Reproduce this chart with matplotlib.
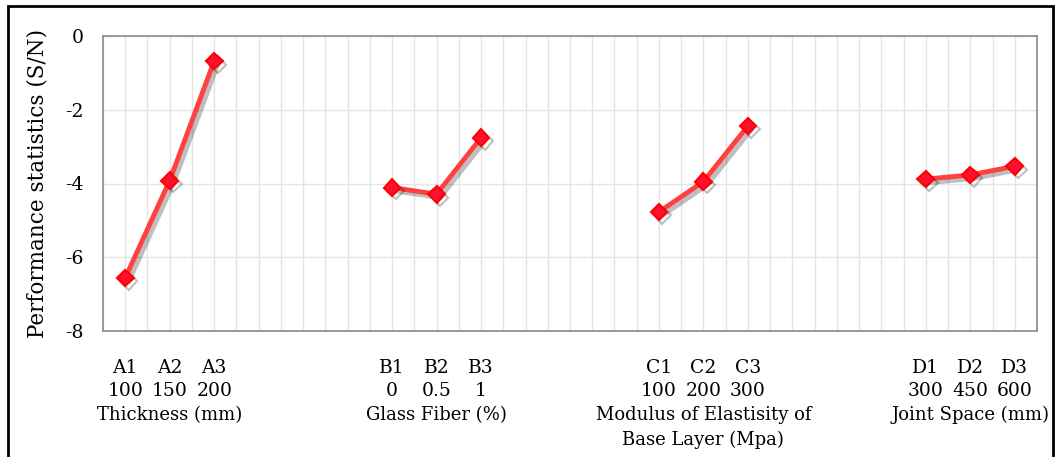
import matplotlib
matplotlib.use('Agg')
import matplotlib.pyplot as plt
import matplotlib.patheffects as pe
import numpy as np

# factor levels, level values and S/N means
codes = [['A1', 'A2', 'A3'], ['B1', 'B2', 'B3'], ['C1', 'C2', 'C3'], ['D1', 'D2', 'D3']]
levels = [['100', '150', '200'], ['0', '0.5', '1'], ['100', '200', '300'], ['300', '450', '600']]
factors = ['Thickness (mm)', 'Glass Fiber (%)',
           'Modulus of Elastisity of\nBase Layer (Mpa)', 'Joint Space (mm)']
sn_values = [[-6.56, -3.92, -0.68],
             [-4.11, -4.29, -2.76],
             [-4.77, -3.95, -2.44],
             [-3.88, -3.77, -3.53]]

group_start = [0, 6, 12, 18]
n_cat = 21

plt.rcParams['font.family'] = ['DejaVu Serif']

fig = plt.figure(figsize=(10.59, 4.57), dpi=100)
ax = fig.add_axes([103 / 1059, 1 - 331 / 457, 934 / 1059, 295 / 457])

shadow = [pe.SimpleLineShadow(offset=(2.5, -2.5), shadow_color='k', alpha=0.25, rho=1),
          pe.Normal()]

for start, vals in zip(group_start, sn_values):
    x = np.arange(start, start + len(vals))
    ax.plot(x, vals, color='#ff4040', lw=3.5, marker='D', ms=8.5,
            mfc='#ff1030', mec='#ff0000', mew=1.5, path_effects=shadow,
            solid_capstyle='round', zorder=3)

ax.set_xlim(-0.5, n_cat - 0.5)
ax.set_ylim(-8, 0)
ax.set_yticks([0, -2, -4, -6, -8])
ax.set_yticklabels(['0', '-2', '-4', '-6', '-8'])
ax.tick_params(axis='y', length=0, pad=14, labelsize=13.5)
ax.set_xticks(np.arange(-0.5, n_cat, 0.5))
ax.tick_params(axis='x', length=0, labelbottom=False)
ax.grid(True, color='#e4e4e4', lw=1)
ax.set_axisbelow(True)
for s in ax.spines.values():
    s.set_color('#8a8a8a')
    s.set_linewidth(1.2)

ax.set_ylabel('Performance statistics (S/N)', fontsize=15.5, labelpad=12)

# category labels under each group
trans = ax.get_xaxis_transform()
for start, cs, ls, name in zip(group_start, codes, levels, factors):
    for i, (c, l) in enumerate(zip(cs, ls)):
        ax.text(start + i, -0.125, c, transform=trans, ha='center', va='center', fontsize=13.5)
        ax.text(start + i, -0.205, l, transform=trans, ha='center', va='center', fontsize=13.5)
    ax.text(start + 1, -0.255, name, transform=trans, ha='center', va='top',
            fontsize=13, linespacing=1.45)

# outer frame
fig.add_artist(plt.Rectangle((8 / 1059, -0.05), 1045 / 1059, 1 - 6 / 457 + 0.05,
                             transform=fig.transFigure, fill=False, ec='k', lw=2))

plt.savefig('out.png', dpi=100)
